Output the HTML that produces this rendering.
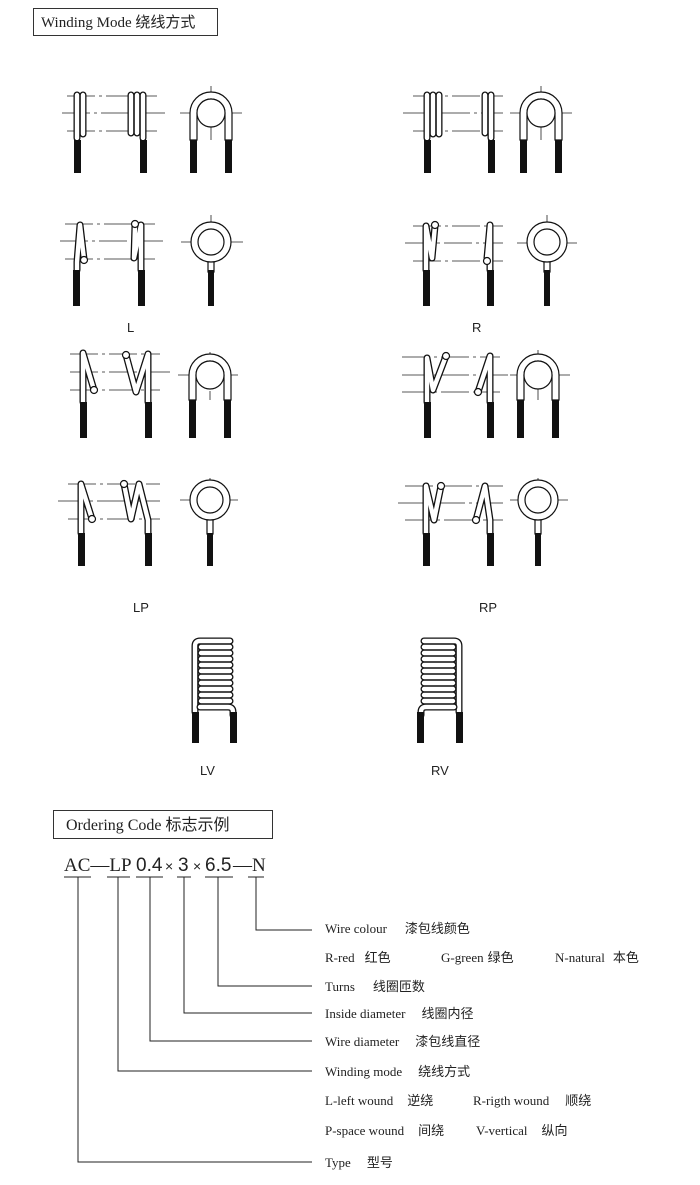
<!DOCTYPE html>
<html><head><meta charset="utf-8"><style>
html,body{margin:0;padding:0;background:#fff}
svg{display:block}
.t{fill:none;stroke:#111;stroke-width:7;stroke-linecap:round;stroke-linejoin:round}
.w{fill:none;stroke:#fff;stroke-width:4.4;stroke-linecap:round;stroke-linejoin:round}
.c{stroke:#222;stroke-width:0.8;stroke-dasharray:28 4 3 4;fill:none}
.k{fill:#111}
.s{font-family:"Liberation Serif","Noto Sans CJK SC",serif;font-size:13px;fill:#222}
.ln{stroke:#222;stroke-width:1;fill:none}
</style></head><body>
<svg width="700" height="1185" viewBox="0 0 700 1185" xmlns="http://www.w3.org/2000/svg">
<defs>
<path id="a1" d="M77 138V95 M83 134V95"/>
<path id="a2" d="M131 133V95 M137 133V95 M143 138V95"/>
<path id="a3" d="M427 138V95 M433 134V95 M439 134V95"/>
<path id="a4" d="M485 133V95 M491 138V95"/>
<path id="b1" d="M77 270L77 262L80 225L84 259"/>
<path id="b2" d="M141 270V225L134 258L135 225"/>
<path id="b3" d="M426 270V226L432 258L435 226"/>
<path id="b4" d="M490 270V225L487 258"/>
<path id="c1" d="M83 402V353L94 390"/>
<path id="c2" d="M126 355L136 392L148 354V402"/>
<path id="c3" d="M427 402V358L433 390L446 356"/>
<path id="c4" d="M478 392L490 356V402"/>
<path id="d1" d="M81 533V484L92 519"/>
<path id="d2" d="M124 484L131 519L139 484L148 520V533"/>
<path id="d3" d="M426 533V486L434 520L441 486"/>
<path id="d4" d="M476 520L485 486L490 520V533"/>
</defs>

<rect x="33.5" y="8.5" width="184" height="27" fill="none" stroke="#333" stroke-width="1"/>
<text x="41" y="27" style="font-family:'Liberation Serif','Noto Sans CJK SC',serif;font-size:15px" fill="#222">Winding Mode  绕线方式</text>

<g class="c">
<line x1="67" y1="96" x2="157" y2="96"/><line x1="62" y1="113" x2="165" y2="113"/><line x1="67" y1="131" x2="157" y2="131"/>
<line x1="180" y1="113" x2="242" y2="113"/><line x1="211" y1="86" x2="211" y2="140"/>
<line x1="413" y1="96" x2="503" y2="96"/><line x1="403" y1="113" x2="503" y2="113"/><line x1="413" y1="131" x2="503" y2="131"/>
<line x1="510" y1="113" x2="572" y2="113"/><line x1="541" y1="86" x2="541" y2="140"/>
<line x1="65" y1="224" x2="155" y2="224"/><line x1="60" y1="241" x2="163" y2="241"/><line x1="65" y1="259" x2="155" y2="259"/>
<line x1="181" y1="242" x2="243" y2="242"/><line x1="211" y1="215" x2="211" y2="268"/>
<line x1="413" y1="226" x2="503" y2="226"/><line x1="405" y1="243" x2="503" y2="243"/><line x1="413" y1="261" x2="503" y2="261"/>
<line x1="517" y1="243" x2="577" y2="243"/><line x1="547" y1="215" x2="547" y2="268"/>
<line x1="70" y1="354" x2="160" y2="354"/><line x1="70" y1="372" x2="170" y2="372"/><line x1="70" y1="390" x2="160" y2="390"/>
<line x1="178" y1="375" x2="238" y2="375"/><line x1="210" y1="352" x2="210" y2="400"/>
<line x1="402" y1="357" x2="500" y2="357"/><line x1="402" y1="375" x2="510" y2="375"/><line x1="402" y1="392" x2="500" y2="392"/>
<line x1="510" y1="375" x2="570" y2="375"/><line x1="538" y1="350" x2="538" y2="400"/>
<line x1="68" y1="484" x2="160" y2="484"/><line x1="58" y1="501" x2="160" y2="501"/><line x1="68" y1="519" x2="160" y2="519"/>
<line x1="180" y1="500" x2="238" y2="500"/><line x1="210" y1="478" x2="210" y2="525"/>
<line x1="405" y1="486" x2="503" y2="486"/><line x1="398" y1="503" x2="503" y2="503"/><line x1="405" y1="520" x2="503" y2="520"/>
<line x1="510" y1="500" x2="568" y2="500"/><line x1="538" y1="478" x2="538" y2="525"/>
</g>

<g>
<use href="#a1" class="t"/><use href="#a1" class="w"/>
<use href="#a2" class="t"/><use href="#a2" class="w"/>
<use href="#a3" class="t"/><use href="#a3" class="w"/>
<use href="#a4" class="t"/><use href="#a4" class="w"/>
<use href="#b1" class="t"/><use href="#b1" class="w"/>
<use href="#b2" class="t"/><use href="#b2" class="w"/>
<use href="#b3" class="t"/><use href="#b3" class="w"/>
<use href="#b4" class="t"/><use href="#b4" class="w"/>
<use href="#c1" class="t"/><use href="#c1" class="w"/>
<use href="#c2" class="t"/><use href="#c2" class="w"/>
<use href="#c3" class="t"/><use href="#c3" class="w"/>
<use href="#c4" class="t"/><use href="#c4" class="w"/>
<use href="#d1" class="t"/><use href="#d1" class="w"/>
<use href="#d2" class="t"/><use href="#d2" class="w"/>
<use href="#d3" class="t"/><use href="#d3" class="w"/>
<use href="#d4" class="t"/><use href="#d4" class="w"/>
</g>
<g fill="#fff" stroke="#111" stroke-width="1.2">
<circle cx="84" cy="260" r="3.5"/><circle cx="135" cy="224" r="3.5"/>
<circle cx="435" cy="225" r="3.5"/><circle cx="487" cy="261" r="3.5"/>
<circle cx="94" cy="390" r="3.5"/><circle cx="126" cy="355" r="3.5"/>
<circle cx="446" cy="356" r="3.5"/><circle cx="478" cy="392" r="3.5"/>
<circle cx="92" cy="519" r="3.5"/><circle cx="124" cy="484" r="3.5"/>
<circle cx="441" cy="486" r="3.5"/><circle cx="476" cy="520" r="3.5"/>
</g>
<g class="k">
<rect x="74" y="140" width="7" height="33"/><rect x="140" y="140" width="7" height="33"/>
<rect x="424" y="140" width="7" height="33"/><rect x="488" y="140" width="7" height="33"/>
<rect x="73" y="270" width="7" height="36"/><rect x="138" y="270" width="7" height="36"/>
<rect x="423" y="270" width="7" height="36"/><rect x="487" y="270" width="7" height="36"/>
<rect x="80" y="402" width="7" height="36"/><rect x="145" y="402" width="7" height="36"/>
<rect x="424" y="402" width="7" height="36"/><rect x="487" y="402" width="7" height="36"/>
<rect x="78" y="533" width="7" height="33"/><rect x="145" y="533" width="7" height="33"/>
<rect x="423" y="533" width="7" height="33"/><rect x="487" y="533" width="7" height="33"/>
</g>

<g stroke="#111" stroke-width="1.2" fill="#fff">
<path d="M190 140V113A21 21 0 0 1 232 113V140H225V113A14 14 0 0 0 197 113V140Z"/>
<circle cx="211" cy="113" r="14"/>
<path d="M520 140V113A21 21 0 0 1 562 113V140H555V113A14 14 0 0 0 527 113V140Z"/>
<circle cx="541" cy="113" r="14"/>
<path d="M189 400V375A21 21 0 0 1 231 375V400H224V375A14 14 0 0 0 196 375V400Z"/>
<circle cx="210" cy="375" r="14"/>
<path d="M517 400V375A21 21 0 0 1 559 375V400H552V375A14 14 0 0 0 524 375V400Z"/>
<circle cx="538" cy="375" r="14"/>
<rect x="208" y="258" width="6" height="14"/>
<circle cx="211" cy="242" r="20"/><circle cx="211" cy="242" r="13"/>
<rect x="544" y="258" width="6" height="14"/>
<circle cx="547" cy="242" r="20"/><circle cx="547" cy="242" r="13"/>
<rect x="207" y="516" width="6" height="18"/>
<circle cx="210" cy="500" r="20"/><circle cx="210" cy="500" r="13"/>
<rect x="535" y="516" width="6" height="18"/>
<circle cx="538" cy="500" r="20"/><circle cx="538" cy="500" r="13"/>
</g>
<g class="k">
<rect x="190" y="140" width="7" height="33"/><rect x="225" y="140" width="7" height="33"/>
<rect x="520" y="140" width="7" height="33"/><rect x="555" y="140" width="7" height="33"/>
<rect x="208" y="270" width="6" height="36"/><rect x="544" y="270" width="6" height="36"/>
<rect x="189" y="400" width="7" height="38"/><rect x="224" y="400" width="7" height="38"/>
<rect x="517" y="400" width="7" height="38"/><rect x="552" y="400" width="7" height="38"/>
<rect x="207" y="533" width="6" height="33"/><rect x="535" y="533" width="6" height="33"/>
</g>

<g style="font-family:'Liberation Sans',sans-serif;font-size:13px" fill="#222">
<text x="127" y="332">L</text><text x="472" y="332">R</text>
<text x="133" y="612">LP</text><text x="479" y="612">RP</text>
<text x="200" y="775">LV</text><text x="431" y="775">RV</text>
</g>

<g>
<path d="M195 712V646Q195 641 200 641H230" class="t"/><path d="M195 712V646Q195 641 200 641H230" class="w"/>
<path d="M200 707H228Q233 707 233 712V715" class="t"/><path d="M200 707H228Q233 707 233 712V715" class="w"/>
<g class="t" stroke-width="6.5">
<path d="M201 647H230M201 653H230M201 659H230M201 665H230M201 671H230M201 677H230M201 683H230M201 689H230M201 695H230M201 701H230"/>
</g>
<g class="w" stroke-width="4">
<path d="M201 647H230M201 653H230M201 659H230M201 665H230M201 671H230M201 677H230M201 683H230M201 689H230M201 695H230M201 701H230"/>
</g>
<rect class="k" x="192" y="712" width="7" height="31"/><rect class="k" x="230" y="712" width="7" height="31"/>
</g>
<g>
<path d="M459 712V646Q459 641 454 641H424" class="t"/><path d="M459 712V646Q459 641 454 641H424" class="w"/>
<path d="M454 707H426Q421 707 421 712V715" class="t"/><path d="M454 707H426Q421 707 421 712V715" class="w"/>
<g class="t" stroke-width="6.5">
<path d="M424 647H453M424 653H453M424 659H453M424 665H453M424 671H453M424 677H453M424 683H453M424 689H453M424 695H453M424 701H453"/>
</g>
<g class="w" stroke-width="4">
<path d="M424 647H453M424 653H453M424 659H453M424 665H453M424 671H453M424 677H453M424 683H453M424 689H453M424 695H453M424 701H453"/>
</g>
<rect class="k" x="417" y="712" width="7" height="31"/><rect class="k" x="456" y="712" width="7" height="31"/>
</g>

<rect x="53.5" y="810.5" width="219" height="28" fill="none" stroke="#333" stroke-width="1"/>
<text x="66" y="830" style="font-family:'Liberation Serif','Noto Sans CJK SC',serif;font-size:16px" fill="#222">Ordering Code   标志示例</text>
<text y="871" style="font-size:19px" fill="#222"><tspan x="64" style="font-family:'Liberation Serif',serif">AC—LP</tspan><tspan x="136" style="font-family:'Liberation Sans',sans-serif">0.4</tspan><tspan x="165" style="font-family:'Liberation Sans',sans-serif;font-size:14px">×</tspan><tspan x="178" style="font-family:'Liberation Sans',sans-serif">3</tspan><tspan x="193" style="font-family:'Liberation Sans',sans-serif;font-size:14px">×</tspan><tspan x="205" style="font-family:'Liberation Sans',sans-serif">6.5</tspan><tspan x="233" style="font-family:'Liberation Serif',serif">—N</tspan></text>
<g class="ln">
<path d="M64 877H91M107 877H130M136 877H163M177 877H191M205 877H233M248 877H264"/>
<path d="M78 877V1162H312"/>
<path d="M118 877V1071H312"/>
<path d="M150 877V1041H312"/>
<path d="M184 877V1013H312"/>
<path d="M218 877V986H312"/>
<path d="M256 877V930H312"/>
</g>
<g class="s">
<text x="325" y="933">Wire  colour<tspan dx="18">漆包线颜色</tspan></text>
<text x="325" y="962">R-red<tspan dx="10">红色</tspan></text>
<text x="441" y="962">G-green<tspan dx="4">绿色</tspan></text>
<text x="555" y="962">N-natural<tspan dx="8">本色</tspan></text>
<text x="325" y="991">Turns<tspan dx="18">线圈匝数</tspan></text>
<text x="325" y="1018">Inside  diameter<tspan dx="16">线圈内径</tspan></text>
<text x="325" y="1046">Wire  diameter<tspan dx="16">漆包线直径</tspan></text>
<text x="325" y="1076">Winding  mode<tspan dx="16">绕线方式</tspan></text>
<text x="325" y="1105">L-left  wound<tspan dx="14">逆绕</tspan></text>
<text x="473" y="1105">R-rigth  wound<tspan dx="16">顺绕</tspan></text>
<text x="325" y="1135">P-space  wound<tspan dx="14">间绕</tspan></text>
<text x="476" y="1135">V-vertical<tspan dx="14">纵向</tspan></text>
<text x="325" y="1167">Type<tspan dx="16">型号</tspan></text>
</g>
</svg>
</body></html>
